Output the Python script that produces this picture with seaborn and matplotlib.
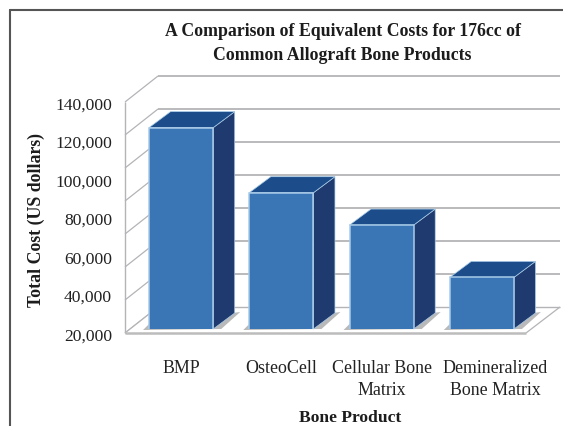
import matplotlib
matplotlib.use("Agg")
import matplotlib.pyplot as plt
import pandas as pd
import seaborn as sns
from matplotlib.patches import Polygon, Rectangle
from matplotlib.transforms import IdentityTransform, ScaledTranslation

# Chart data
products = ["BMP", "OsteoCell", "Cellular Bone\nMatrix", "Demineralized\nBone Matrix"]
total_cost = [124600, 90800, 74000, 46800]
cost_ticks = [20000, 40000, 60000, 80000, 100000, 120000, 140000]

W, H = 563, 427
DPI = 100

# Colours of the bar faces and the chart box
FRONT = "#3a75b5"
TOP = "#1c4d8a"
SIDE = "#1f3a6e"
EDGE = "#a8cbe8"
WALL = "#b4b4b8"
SHADOW = "#b9b9b9"

sns.set_theme(style="white")
plt.rcParams["font.family"] = ["Liberation Serif", "DejaVu Serif"]

fig = plt.figure(figsize=(W / DPI, H / DPI), dpi=DPI, facecolor="white")


def px(x, y):
    """Image-style pixel position (origin top left) to display coordinates."""
    return (x, H - y)


# Axes box holds the front plane of the bars
left, right, base, top = 131, 532, 330, 99
ax = fig.add_axes([left / W, 1 - base / H, (right - left) / W, (base - top) / H])
ax.patch.set_visible(False)

df = pd.DataFrame({"product": products, "cost": total_cost})
sns.barplot(data=df, x="product", y="cost", color=FRONT, saturation=1, width=0.64,
            edgecolor=EDGE, linewidth=1.1, ax=ax, zorder=5)
ax.set_xlim(-0.5, 3.5)
ax.set_ylim(cost_ticks[0], cost_ticks[-1])
ax.set_xlabel("")
ax.set_ylabel("")
for spine in ax.spines.values():
    spine.set_visible(False)
ax.set_yticks(cost_ticks, [f"{v:,}" for v in cost_ticks])
ax.tick_params(axis="both", length=0, colors="#222222")

# Labels sit a little below and away from the plane the bars stand on
scale = fig.dpi_scale_trans
for lab in ax.get_yticklabels():
    lab.set_fontsize(12.6)
    lab.set_transform(lab.get_transform() + ScaledTranslation(-14 / DPI, -4.5 / DPI, scale))
for i, lab in enumerate(ax.get_xticklabels()):
    lab.set_fontsize(12.9)
    lab.set_linespacing(1.36)
    shift = 13.5 if i == 3 else 0
    lab.set_transform(lab.get_transform() + ScaledTranslation(shift / DPI, -25 / DPI, scale))

disp = IdentityTransform()


def poly(points, color, z, edge="none", lw=0):
    ax.add_patch(Polygon(points, closed=True, facecolor=color, edgecolor=edge, linewidth=lw,
                         transform=disp, clip_on=False, zorder=z))


def line(p, q, z=1, lw=1.2, color=WALL):
    ax.plot([p[0], q[0]], [p[1], q[1]], color=color, lw=lw, transform=disp,
            clip_on=False, zorder=z, solid_capstyle="butt")


# Chart walls: seven bands from the floor to the top edge
wall_x0, wall_x1, floor_y, band = 125, 158, 334, 33
depth_y = 26
back_right, front_right = 560, 526
for level in range(8):
    y = floor_y - level * band
    line(px(wall_x0, y), px(wall_x1, y - depth_y), lw=0.9)
    if level:
        line(px(wall_x1, y - depth_y), px(back_right, y - depth_y), lw=1.3)
line(px(wall_x0, floor_y), px(wall_x0, floor_y - 7 * band), lw=1.0)

# Floor panel
poly([px(wall_x0, floor_y), px(wall_x1, floor_y - depth_y),
      px(back_right, floor_y - depth_y), px(front_right, floor_y)], "white", 1.5)
line(px(wall_x0, floor_y), px(wall_x1, floor_y - depth_y), z=1.6, lw=0.9)
line(px(wall_x1, floor_y - depth_y), px(back_right, floor_y - depth_y), z=1.6, lw=1.0)
line(px(back_right, floor_y - depth_y), px(front_right, floor_y), z=1.6, lw=0.9)
line(px(wall_x0, floor_y), px(front_right, floor_y), z=1.6, lw=1.8, color="#bcbcbc")

# Extruded top and side faces follow each drawn bar
dx, dy = 21.5, 16
for bar in ax.patches:
    if not isinstance(bar, Rectangle) or bar.get_transform() is disp:
        continue
    x0, y1 = ax.transData.transform((bar.get_x(), bar.get_height()))
    x1, _ = ax.transData.transform((bar.get_x() + bar.get_width(), bar.get_height()))
    y0 = ax.transData.transform((0, cost_ticks[0]))[1]
    poly([(x0 - 6, y0 - 1), (x0, y0 + 5), (x1 + 27, y0 + 17), (x1 + 8, y0)], SHADOW, 2)
    poly([(x1, y1), (x1 + dx, y1 + dy), (x1 + dx, y0 + dy), (x1, y0)], SIDE, 3, EDGE, 0.5)
    poly([(x0, y1), (x0 + dx, y1 + dy), (x1 + dx, y1 + dy), (x1, y1)], TOP, 3, EDGE, 0.5)

# Outer frame runs off the right and bottom of the figure
frame = dict(color="#555555", lw=1.5, transform=fig.transFigure)
fig.add_artist(plt.Line2D([10 / W, 10 / W], [0, 1 - 10.5 / H], **frame))
fig.add_artist(plt.Line2D([10 / W, 1], [1 - 10.5 / H, 1 - 10.5 / H], **frame))

# Titles
text = "#1c1c1c"
fig.text(343 / W, 1 - 32 / H, "A Comparison of Equivalent Costs for 176cc of", ha="center", va="center",
         fontsize=12.8, fontweight="bold", color=text)
fig.text(342 / W, 1 - 55 / H, "Common Allograft Bone Products", ha="center", va="center",
         fontsize=12.8, fontweight="bold", color=text)
fig.text(36 / W, 1 - 220 / H, "Total Cost (US dollars)", rotation=90, ha="center", va="center",
         fontsize=12.8, fontweight="bold", color=text)
fig.text(350 / W, 1 - 418 / H, "Bone Product", ha="center", va="center",
         fontsize=12.6, fontweight="bold", color=text)

fig.savefig("out.png", dpi=DPI)
